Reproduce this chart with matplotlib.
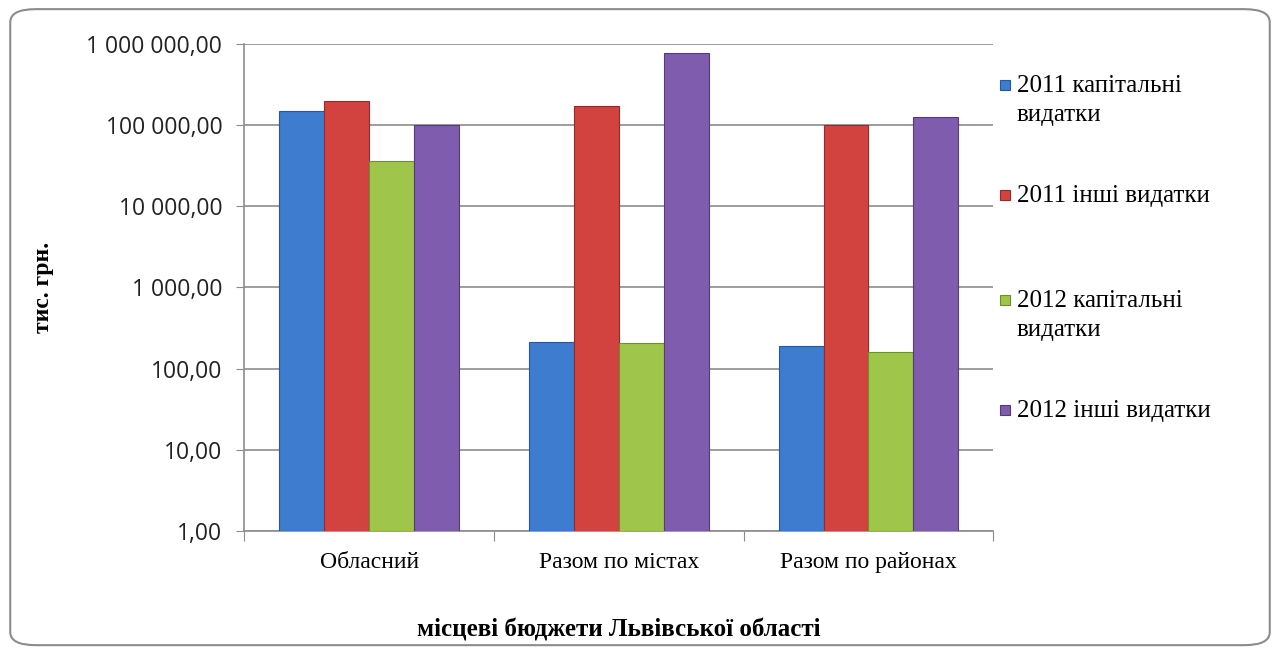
import matplotlib
matplotlib.use('Agg')
from matplotlib import pyplot as plt
from matplotlib.patches import FancyBboxPatch, Rectangle
from matplotlib.ticker import FixedLocator, FuncFormatter, NullLocator
import numpy as np

categories = ['Обласний', 'Разом по містах', 'Разом по районах']
series_names = ['2011 капітальні\nвидатки', '2011 інші видатки',
                '2012 капітальні\nвидатки', '2012 інші видатки']
cap_2011 = [150000, 212, 188]
other_2011 = [198000, 170000, 99000]
cap_2012 = [35900, 204, 158]
other_2012 = [99000, 774000, 125000]
y_ticks = [1, 10, 100, 1000, 10000, 100000, 1000000]

colors = ['#3d7cce', '#d24340', '#9fc64b', '#7f5cad']
edges = ['#245a9a', '#962a28', '#6e8f2e', '#553a7d']

# legend rows (first-line centre, figure fraction)
legend_y = [0.869, 0.701, 0.540, 0.372]


def fmt_uk(v, pos=None):
    # "1 000 000,00" style
    return '{:,.2f}'.format(v).replace(',', ' ').replace('.', ',')


fig = plt.figure(figsize=(12.8, 6.53), dpi=100, facecolor='white')
border = FancyBboxPatch((0.008, 0.012), 0.984, 0.974,
                        boxstyle='round,pad=0,rounding_size=0.02',
                        transform=fig.transFigure, facecolor='none',
                        edgecolor='#8c8c8c', linewidth=1.5, zorder=-1)
fig.patches.append(border)

ax = fig.add_axes([0.191, 0.187, 0.585, 0.746])
ax.set_facecolor('none')

x = np.arange(len(categories))
width = 0.18
data = [cap_2011, other_2011, cap_2012, other_2012]
for i, vals in enumerate(data):
    ax.bar(x + (i - 1.5) * width, vals, width, bottom=1, color=colors[i],
           edgecolor=edges[i], linewidth=0.8, label=series_names[i], zorder=3)

ax.set_yscale('log')
ax.set_ylim(1, 1000000)
ax.set_xlim(-0.5, 2.5)
ax.yaxis.set_major_locator(FixedLocator(y_ticks))
ax.yaxis.set_minor_locator(NullLocator())
ax.yaxis.set_major_formatter(FuncFormatter(fmt_uk))
ax.grid(axis='y', color='#8c8c8c', linewidth=1.2, zorder=0)

ax.set_xticks([-0.5, 0.5, 1.5, 2.5])
ax.set_xticklabels([])
ax.set_xticks(x, minor=True)
ax.set_xticklabels(categories, minor=True, fontsize=17,
                   family='Liberation Serif')
ax.tick_params(axis='x', which='minor', length=0, pad=15)
ax.tick_params(axis='x', which='major', length=7, color='#8c8c8c', direction='out')
ax.tick_params(axis='y', length=6, color='#8c8c8c', labelsize=16.5, pad=10)
for lab in ax.get_yticklabels():
    lab.set_family('Open Sans')
    lab.set_color('#222222')

for s in ['top', 'right']:
    ax.spines[s].set_visible(False)
for s in ['left', 'bottom']:
    ax.spines[s].set_color('#8c8c8c')
    ax.spines[s].set_linewidth(1.2)

ax.set_ylabel('тис. грн.', fontsize=17, fontweight='bold',
              family='Liberation Serif')
ax.yaxis.set_label_coords(-0.255, 0.5)
ax.set_xlabel('місцеві бюджети Львівської області', fontsize=18,
              fontweight='bold', family='Liberation Serif')
ax.xaxis.set_label_coords(0.5, -0.18)

# legend drawn by hand so the marker sits on the first text line
for i, name in enumerate(series_names):
    yy = legend_y[i]
    fig.add_artist(Rectangle((0.7815, yy - 0.0075), 0.0078, 0.0153,
                             transform=fig.transFigure, facecolor=colors[i],
                             edgecolor=edges[i], linewidth=0.8))
    fig.text(0.7945, yy + 0.016, name, ha='left', va='top', fontsize=18,
             family='Liberation Serif', linespacing=1.4)

fig.savefig('out.png', dpi=100)
